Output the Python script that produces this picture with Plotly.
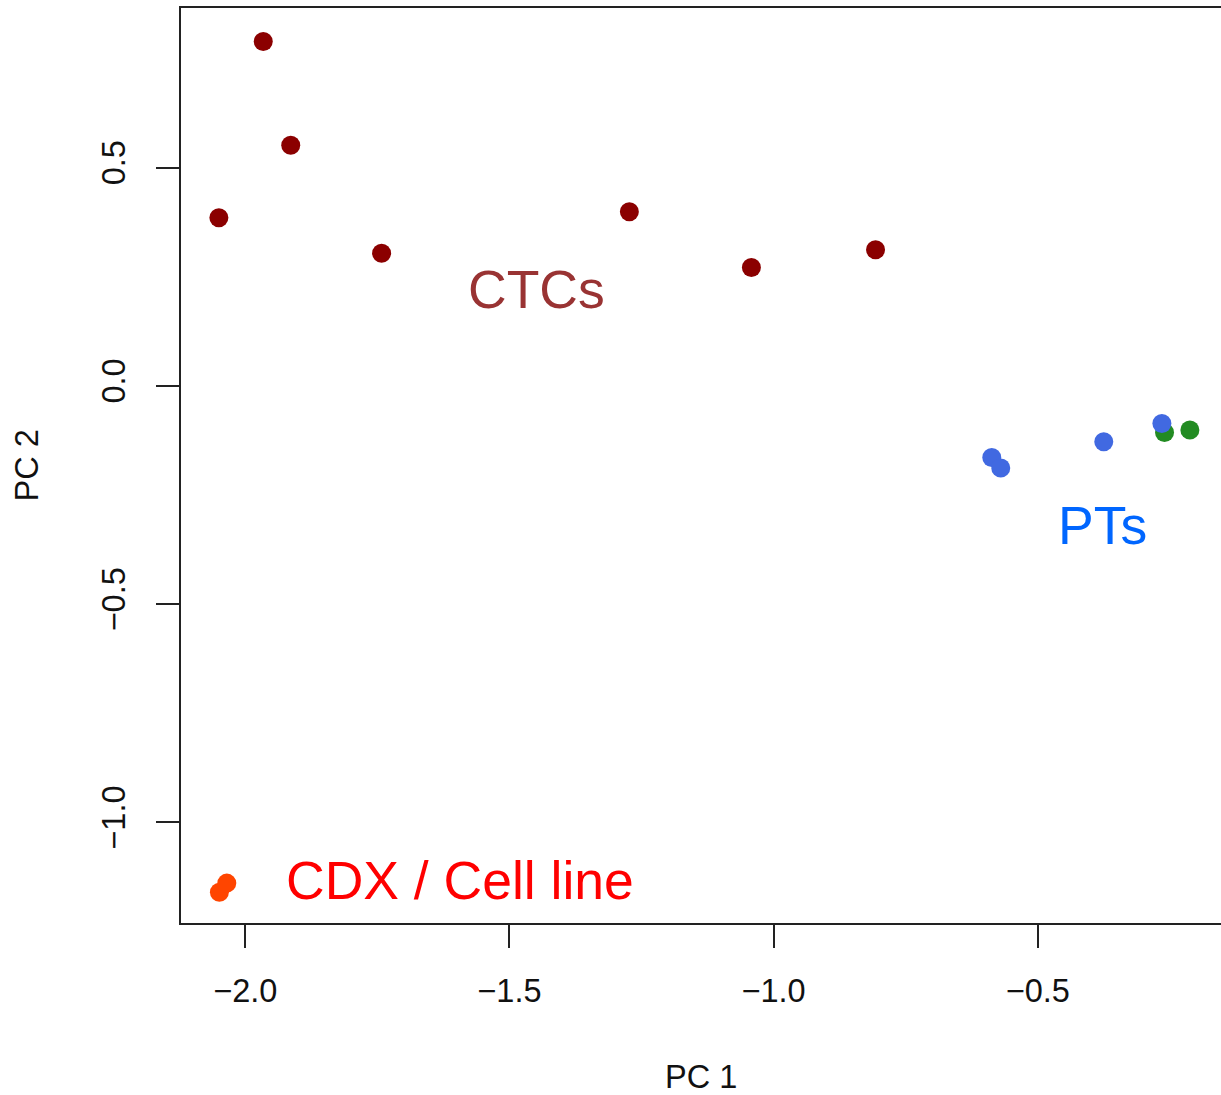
import plotly.graph_objects as go

# PCA scores (PC1, PC2) per sample group
ctc_pc1 = [-1.966, -1.914, -2.050, -1.742, -1.273, -1.042, -0.807]
ctc_pc2 = [0.789, 0.551, 0.385, 0.304, 0.399, 0.271, 0.312]

pt_pc1 = [-0.587, -0.570, -0.375, -0.265]
pt_pc2 = [-0.164, -0.188, -0.128, -0.086]

pt2_pc1 = [-0.260, -0.212]
pt2_pc2 = [-0.107, -0.101]

cdx_pc1 = [-2.049, -2.035]
cdx_pc2 = [-1.160, -1.139]

x_ticks = [-2.0, -1.5, -1.0, -0.5]
x_tick_text = ["−2.0", "−1.5", "−1.0", "−0.5"]
y_ticks = [0.5, 0.0, -0.5, -1.0]
y_tick_text = ["0.5", "0.0", "−0.5", "−1.0"]

group_labels = ["CTCs", "PTs", "CDX / Cell line"]
label_pc1 = [-1.449, -0.3765, -1.5927]
label_pc2 = [0.2198, -0.3206, -1.1335]
label_colors = ["#993333", "#0066FF", "#FF0000"]

FONT = "Liberation Sans, Arial, Helvetica, sans-serif"
MS = 19

fig = go.Figure()
fig.add_trace(go.Scatter(x=ctc_pc1, y=ctc_pc2, mode="markers",
                         marker=dict(size=MS, color="#8B0000", line=dict(width=0))))
fig.add_trace(go.Scatter(x=pt2_pc1, y=pt2_pc2, mode="markers",
                         marker=dict(size=MS, color="#228B22", line=dict(width=0))))
fig.add_trace(go.Scatter(x=pt_pc1, y=pt_pc2, mode="markers",
                         marker=dict(size=MS, color="#4169E1", line=dict(width=0))))
fig.add_trace(go.Scatter(x=cdx_pc1, y=cdx_pc2, mode="markers",
                         marker=dict(size=MS, color="#FF4500", line=dict(width=0))))

for txt, lx, ly, col in zip(group_labels, label_pc1, label_pc2, label_colors):
    fig.add_annotation(x=lx, y=ly, text=txt, showarrow=False,
                       xanchor="center", yanchor="middle",
                       font=dict(family=FONT, size=53.5, color=col))

# axis titles
fig.add_annotation(xref="paper", yref="paper", x=0.5, y=0, yshift=-154,
                   text="PC 1", showarrow=False, xanchor="center", yanchor="middle",
                   font=dict(family=FONT, size=32.5, color="#111"))
fig.add_annotation(xref="paper", yref="paper", x=0, y=0.5, xshift=-155,
                   text="PC 2", showarrow=False, textangle=-90,
                   xanchor="center", yanchor="middle",
                   font=dict(family=FONT, size=32.5, color="#111"))

fig.update_layout(
    width=1221, height=1095,
    margin=dict(l=181, r=0, t=8, b=172),
    paper_bgcolor="white", plot_bgcolor="white",
    showlegend=False,
    font=dict(family=FONT, size=32.5, color="#111"),
    xaxis=dict(range=[-2.1217, -0.1531], tickvals=x_ticks, ticktext=x_tick_text,
               showgrid=False, zeroline=False, showline=True, mirror=True,
               linecolor="#222", linewidth=2, ticks="outside", ticklen=23,
               tickwidth=2, tickcolor="#222", ticklabelstandoff=15),
    yaxis=dict(range=[-1.2304, 0.8656], tickvals=y_ticks, ticktext=y_tick_text,
               showgrid=False, zeroline=False, showline=True, mirror=False,
               linecolor="#222", linewidth=2, ticks="outside", ticklen=23,
               tickwidth=2, tickcolor="#222", tickangle=-90, ticklabelstandoff=18),
)

fig.write_html("out.html")
